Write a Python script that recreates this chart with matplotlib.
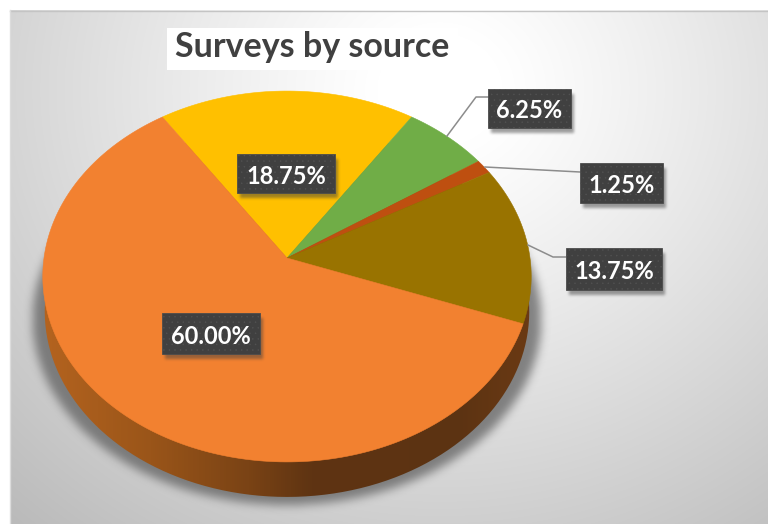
"""Surveys by source: Excel-style tilted pie, drawn in pixel coordinates."""

import matplotlib

matplotlib.use("Agg")

import matplotlib.pyplot as plt
import numpy as np
from matplotlib.colors import LinearSegmentedColormap
from matplotlib.patches import PathPatch, Rectangle
from matplotlib.path import Path

TITLE = "Surveys by source"
# clockwise from the yellow slice, which is centred on the top of the pie
SHARES = [18.75, 6.25, 1.25, 13.75, 60.00]
SLICE_COLORS = ["#FFC000", "#70AD47", "#BE4F10", "#997300", "#F28130"]
# label box: x0, y0, x1, y1 in pixels
LABEL_BOXES = [
    (237, 154, 335, 193),
    (488, 89, 571, 128),
    (580, 163, 663, 203),
    (566, 248, 662, 290),
    (162, 313, 260, 354),
]
LEADERS = [
    None,
    [(447, 136), (476, 97), (488, 97)],
    [(485, 167), (580, 172)],
    [(528, 245), (553, 257), (566, 257)],
    None,
]

W, H = 768, 524
CX, CY = 287.0, 258.0
RX, RY, TILT = 243.0, 183.6, 0.0997
DEPTH = 35.0
LABEL_FONT = ["Lato", "DejaVu Sans"]


def project(theta_deg, radius=1.0):
    """Tilted-disc perspective: unit circle angle -> pixel x, y."""
    t = np.radians(theta_deg)
    x = radius * np.cos(t)
    y = radius * np.sin(t)
    s = 1.0 / (1.0 + TILT * y)
    return CX + RX * x * s, CY - RY * y * s


def blur(a, size, passes=3):
    """Cheap gaussian-ish blur, a few box filters in both directions."""
    kernel = np.ones(size) / size
    for _ in range(passes):
        a = np.apply_along_axis(lambda r: np.convolve(r, kernel, mode="same"), 0, a)
        a = np.apply_along_axis(lambda r: np.convolve(r, kernel, mode="same"), 1, a)
    return a


def mask_of(vertices, yy, xx):
    pts = np.column_stack([xx.ravel(), yy.ravel()])
    return Path(vertices).contains_points(pts).reshape(xx.shape).astype(float)


fig = plt.figure(figsize=(W / 100, H / 100), dpi=100, facecolor="white")
ax = fig.add_axes([0, 0, 1, 1])
ax.set_xlim(0, W)
ax.set_ylim(H, 0)
ax.axis("off")

yy, xx = np.mgrid[0.5:H, 0.5:W]

# panel background, white near the top right of centre, grey toward the corners
dist = np.hypot((xx - 440) / 520, (yy - 90) / 470)
bg = np.clip(1.0 - 0.24 * np.clip(dist - 0.12, 0, None) ** 1.1, 0, 1)
rgb = np.dstack([bg, bg, bg])
rgb[(xx < 10) | (yy < 10)] = 1.0
ax.imshow(rgb, extent=(0, W, H, 0), zorder=0, aspect="auto")
ax.plot([10, W], [10.5, 10.5], color="#c4c4c4", lw=1, zorder=0.5)
ax.plot([10, 10], [10, H], color="#dcdcdc", lw=1, zorder=0.5)

# soft shadow of the pie
circle = np.linspace(0, 360, 361)
px, py = project(circle)
low_x = CX + (px - CX) * 0.992
low_y = py + DEPTH
shadow = mask_of(np.column_stack([CX + (low_x - CX) * 1.05, low_y + 8]), yy, xx)
shadow = blur(shadow, 9)
shadow_rgba = np.zeros((H, W, 4))
shadow_rgba[..., :3] = 0.38
shadow_rgba[..., 3] = shadow * 0.75
ax.imshow(shadow_rgba, extent=(0, W, H, 0), zorder=1, aspect="auto")

# label box shadows
box_shadow = np.zeros((H, W))
for x0, y0, x1, y1 in LABEL_BOXES:
    box_shadow[y0 + 5:y1 + 5, x0 + 3:x1 + 3] = 1.0
box_shadow = blur(box_shadow, 3)

# side wall: horizontal gradient clipped to the lower disc
side_cmap = LinearSegmentedColormap.from_list(
    "side",
    [(0.0, "#B4631F"), (0.22, "#9A5519"), (0.42, "#7A4315"), (0.55, "#5F3412"),
     (0.85, "#5C3312"), (1.0, "#6B3A14")],
)
gradient = np.linspace(0, 1, 490).reshape(1, -1)
side_img = ax.imshow(
    gradient, extent=(42, 532, low_y.max(), low_y.min()), cmap=side_cmap, zorder=2, aspect="auto"
)
side_clip = PathPatch(Path(np.column_stack([low_x, low_y])), transform=ax.transData, fc="none", ec="none")
ax.add_patch(side_clip)
side_img.set_clip_path(side_clip)

# top face
start = 90 + SHARES[0] / 100 * 180
edges = start - np.cumsum([0] + SHARES) * 3.6
for share, color, a0, a1 in zip(SHARES, SLICE_COLORS, edges[:-1], edges[1:]):
    arc = np.linspace(a0, a1, max(int(share * 3), 4))
    ax_, ay_ = project(arc)
    ax.fill(np.r_[CX, ax_], np.r_[CY, ay_], color=color, lw=0.4, zorder=3)

ax.imshow(
    np.dstack([np.zeros((H, W, 3)) + 0.25, box_shadow * 0.5]),
    extent=(0, W, H, 0), zorder=4, aspect="auto",
)

for pts in LEADERS:
    if pts:
        ax.plot(*zip(*pts), color="#8c8c8c", lw=1.1, zorder=5)

# labels, the boxes have a faint dot texture
plt.rcParams["hatch.linewidth"] = 0.3
for share, (x0, y0, x1, y1) in zip(SHARES, LABEL_BOXES):
    ax.add_patch(Rectangle((x0, y0), x1 - x0, y1 - y0, fc="#404040", ec="#4c4c4c", lw=0.6, zorder=6))
    ax.add_patch(Rectangle((x0, y0), x1 - x0, y1 - y0, fc="none", ec="#525252", lw=0, hatch="...", zorder=6.5))
    ax.text((x0 + x1) / 2, (y0 + y1) / 2 + 2.5, f"{share:.2f}%", color="white", family=LABEL_FONT,
            fontweight="bold", fontsize=17, ha="center", va="center", zorder=7)

# title on its white plate
ax.add_patch(Rectangle((167, 28), 291, 42, fc="white", ec="none", zorder=6))
ax.text(175, 47, TITLE, color="#404040", family=LABEL_FONT, fontweight="bold", fontsize=24.5,
        ha="left", va="center", zorder=7)

ax.set_xlim(0, W)
ax.set_ylim(H, 0)
fig.savefig("out.png", dpi=100)
plt.close(fig)
